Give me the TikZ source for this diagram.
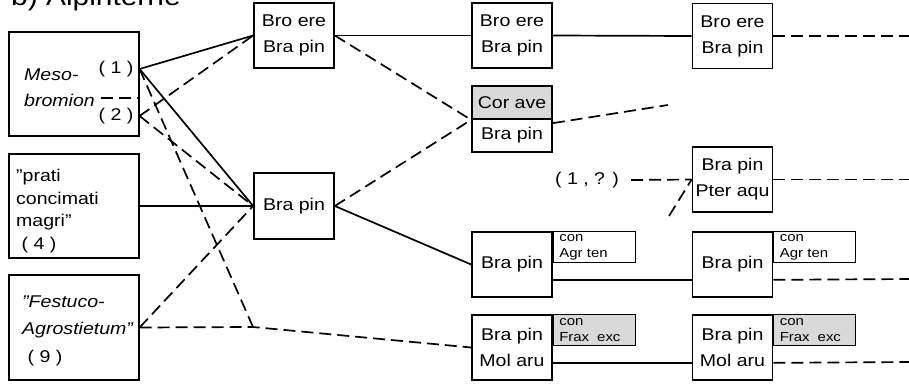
\documentclass[tikz,border=0pt]{standalone}
\usepackage{fontspec}
\setmainfont[FakeStretch=1.15]{Liberation Sans}
\usetikzlibrary{positioning}

\begin{document}
\begin{tikzpicture}[
    x=1pt, y=-1pt,
    box/.style={draw, line width=1.7pt, minimum width=80pt, minimum height=65pt, inner sep=0pt, align=center, font=\fontsize{17}{26}\selectfont},
    src/.style={draw, line width=1.2pt, minimum width=130pt, minimum height=104pt, inner sep=0pt},
    note/.style={draw, line width=0.9pt, text width=70pt, inner xsep=6pt, inner ysep=0pt, minimum height=31pt, anchor=north west, align=left, font=\fontsize{13}{15.5}\selectfont},
    txt/.style={font=\fontsize{17}{23}\selectfont, inner sep=0pt, align=left},
    itxt/.style={font=\fontsize{17}{23}\selectfont\itshape, inner sep=0pt, align=left},
    con/.style={line width=1.7pt},
    dsh/.style={line width=1.7pt, dash pattern=on 12pt off 6pt},
]
    \useasboundingbox (0,0) rectangle (909,385);

    \node[anchor=base west, inner sep=0pt, font=\fontsize{26}{26}\selectfont] (title) at (11,6) {b) Alpinterne};

    \node[src] (meso) at (74,84) {};
    \node[itxt, anchor=west] (mmeso) at (24,75) {Meso-};
    \node[itxt, anchor=west] (mbrom) at (24,100) {bromion};
    \node[txt] (mone) at (116,69) {( 1 )};
    \node[txt] (mtwo) at (116,116) {( 2 )};
    \draw[dsh] ([xshift=6pt, yshift=2pt]mbrom.east) -- ([yshift=2pt]mbrom.east -| meso.east);

    \node[src] (prati) at (74,206) {};
    \node[txt, anchor=west, font=\fontsize{17}{22.7}\selectfont] (ptext) at (16,211) {"prati\\concimati\\magri"\\\ ( 4 )};

    \node[src, minimum height=105pt] (fest) at (74,327.5) {};
    \node[itxt, anchor=west, font=\fontsize{17}{27.5}\selectfont\itshape] (ftext) at (22,330.5) {"Festuco-\\Agrostietum"\\\upshape\ ( 9 )};

    \node[box] (a1) at (294,35.5) {Bro ere\\Bra pin};
    \node[box, minimum height=66pt] (a2) at (294,206) {Bra pin};

    \node[box] (c1) at (512,35.5) {Bro ere\\Bra pin};
    \node[box, minimum height=33pt, fill=black!15] (cor) at (512,102.5) {Cor ave};
    \node[box, minimum height=33pt, below=-1.7pt of cor] (corb) {Bra pin};
    \node[box] (c4) at (512,264.5) {Bra pin};
    \node[box] (c5) at (512,347.5) {Bra pin\\Mol aru};
    \node[note] (n4) at (c4.north east) {con\\Agr ten};
    \node[note, fill=black!15] (n5) at (c5.north east) {con\\Frax\hspace{8pt}exc};

    \node[box] (d1) at (732.5,36) {Bro ere\\Bra pin};
    \node[txt] (q) at (587,180) {( 1 , ? )};
    \node[box] (d2) at (732.5,179.5) {Bra pin\\Pter aqu};
    \node[box] (d4) at (732.5,264.5) {Bra pin};
    \node[box] (d5) at (732.5,347.5) {Bra pin\\Mol aru};
    \node[note] (n4b) at (d4.north east) {con\\Agr ten};
    \node[note, fill=black!15] (n5b) at (d5.north east) {con\\Frax\hspace{8pt}exc};

    \coordinate (m1) at (meso.east |- mone);
    \coordinate (m2) at (meso.east |- mtwo);
    \coordinate (tj) at (253,327);
    \coordinate (cend) at (668,105);
    \coordinate (slash) at (669,216);
    \coordinate (e1) at (909,36);
    \coordinate (e2) at (909,179.5);
    \coordinate (e4) at (909,279);
    \coordinate (e5) at (909,362);

    \draw[con] (m1) -- (a1.west);
    \draw[dsh] (m2) -- (a1.west);
    \draw[con] (m1) -- (a2.west);
    \draw[dsh] (m2) -- (a2.west);
    \draw[dsh] (m1) -- (tj);
    \draw[con] (prati.east) -- (a2.west);
    \draw[dsh] (fest.east) -- (a2.west);
    \draw[dsh] (fest.east) -- (tj) -- (c5.west);

    \draw[con] (a1.east) -- (c1.west);
    \draw[dsh] (a1.east) -- (cor.south west);
    \draw[dsh] (a2.east) -- (cor.south west);
    \draw[con] (a2.east) -- (c4.west);

    \draw[con] (c1.east) -- (d1.west);
    \draw[dsh] ([yshift=-5pt]corb.north east) -- (cend);
    \draw[dsh] ([xshift=12pt]q.east) -- (d2.west);
    \draw[dsh] (slash) -- (d2.west);
    \draw[con] ([yshift=18pt]c4.south east) -- ([yshift=18pt]d4.south west);
    \draw[con] ([yshift=18pt]c5.south east) -- ([yshift=18pt]d5.south west);

    \draw[dsh] (d1.east) -- (e1);
    \draw[dsh] (d2.east) -- (e2);
    \draw[dsh] ([yshift=18pt]d4.south east) -- (e4);
    \draw[dsh] ([yshift=18pt]d5.south east) -- (e5);
\end{tikzpicture}
\end{document}
